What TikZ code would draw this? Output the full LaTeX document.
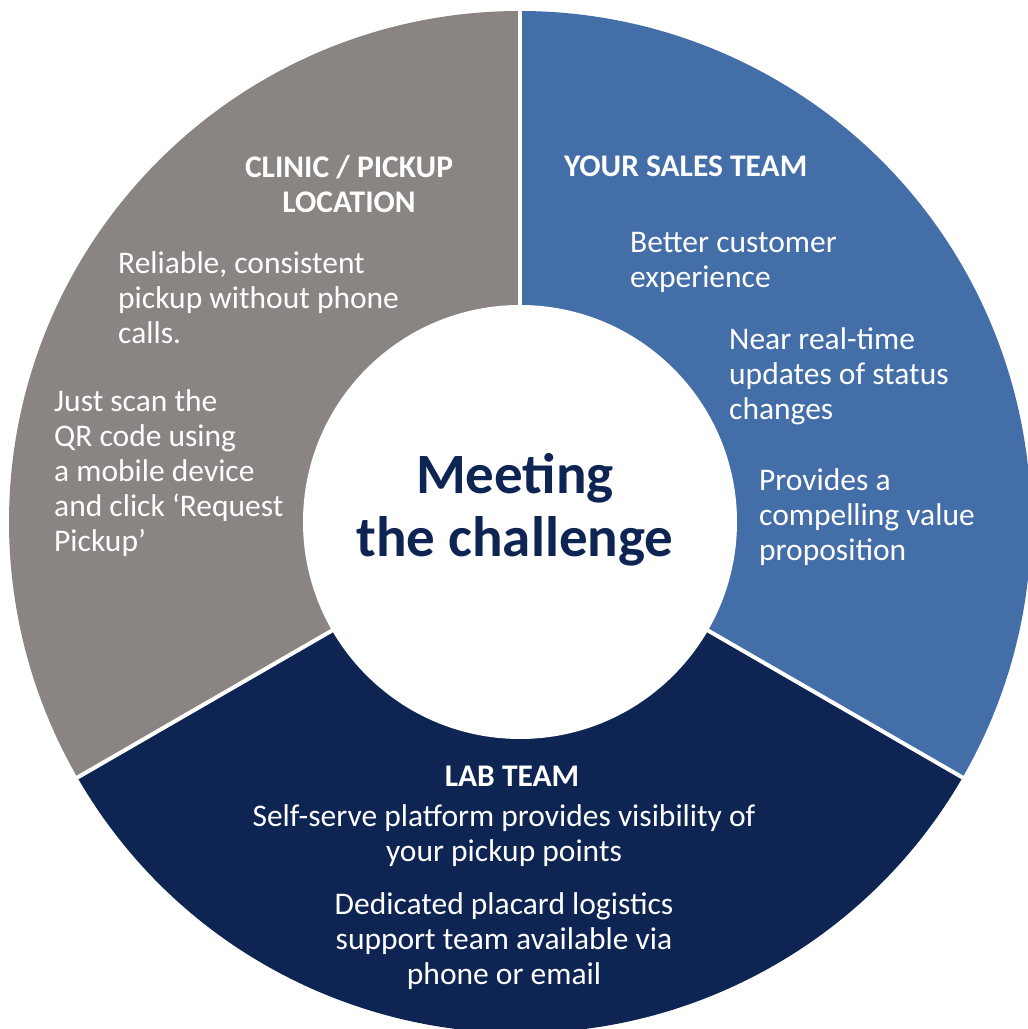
\documentclass[tikz,border=0pt]{standalone}
\usepackage{fontspec}
\setmainfont{Carlito}
\definecolor{clinicgray}{RGB}{138,132,131}
\definecolor{salesblue}{RGB}{67,110,168}
\definecolor{labnavy}{RGB}{14,36,82}
\begin{document}
\begin{tikzpicture}[x=1pt, y=1pt,
    head/.style={font=\fontsize{31.5}{35}\selectfont\bfseries, text=white, inner sep=0pt, align=center},
    body/.style={font=\fontsize{31.5}{35}\selectfont, text=white, inner sep=0pt},
    divider/.style={white, line width=4pt}]
    \useasboundingbox (0,0) rectangle (1028,1029);
    \clip (0,0) rectangle (1028,1029);
    \coordinate (ctr) at (520,507);
    % the three sectors of the ring
    \fill[clinicgray] (ctr) -- ++(90:511) arc[start angle=90, end angle=210, radius=511pt] -- cycle;
    \fill[salesblue] (ctr) -- ++(-30:511) arc[start angle=-30, end angle=90, radius=511pt] -- cycle;
    \fill[labnavy] (ctr) -- ++(210:511) arc[start angle=210, end angle=330, radius=511pt] -- cycle;
    \foreach \a in {90,210,330} \draw[divider] (ctr) -- ++(\a:515);
    \node[circle, fill=white, minimum size=434pt, inner sep=0pt] (hub) at (ctr) {};
    \node[font=\fontsize{57}{63}\selectfont\bfseries, text=labnavy, align=center, inner sep=0pt] (title) at (515,519) {Meeting\\the challenge};
    % clinic
    \node[head, anchor=north] (clinichead) at (349,874) {CLINIC / PICKUP\\LOCATION};
    \node[body, anchor=north west, align=left] (reliable) at (118,778) {Reliable, consistent\\pickup without phone\\calls.};
    \node[body, anchor=north west, align=left] (scan) at (54,640) {Just scan the\\QR code using\\a mobile device\\and click ‘Request\\Pickup’};
    % sales
    \node[head, anchor=north west] (saleshead) at (564,873) {YOUR SALES TEAM};
    \node[body, anchor=north west, align=left] (better) at (630,797) {Better customer\\experience};
    \node[body, anchor=north west, align=left] (realtime) at (729,702) {Near real-time\\updates of status\\changes};
    \node[body, anchor=north west, align=left] (provides) at (759,561) {Provides a\\compelling value\\proposition};
    % lab
    \node[head, anchor=north] (labhead) at (512,263) {LAB TEAM};
    \node[body, anchor=north, align=center] (selfserve) at (504,225) {Self-serve platform provides visibility of\\your pickup points};
    \node[body, anchor=north, align=center] (placard) at (504,137) {Dedicated placard logistics\\support team available via\\phone or email};
\end{tikzpicture}
\end{document}
